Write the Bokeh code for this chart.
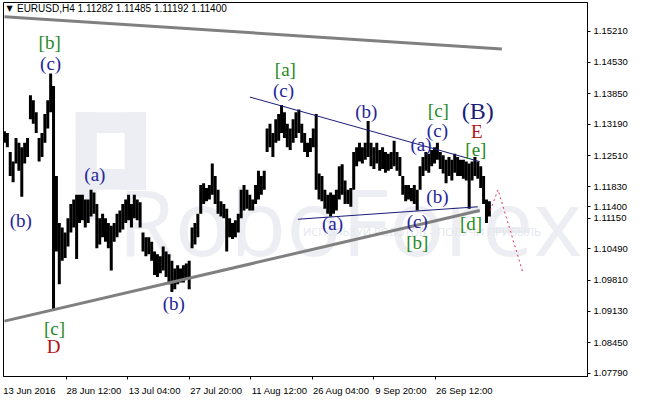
from bokeh.plotting import figure
from bokeh.models import Range1d, FixedTicker, Label
from bokeh.embed import file_html
from bokeh.resources import INLINE
from bokeh.core.properties import value

# H4 bar number (every 3rd bar sampled) and high / low of each sampled bar
bar_no = list(range(0, 507, 3))
highs = [1.1304, 1.1300, 1.1259, 1.1238, 1.1289, 1.1279, 1.1269, 1.1279, 1.1289, 1.1382,
         1.1371, 1.1345, 1.1289, 1.1300, 1.1341, 1.1371, 1.1429, 1.1402, 1.1207, 1.1105,
         1.1095, 1.1084, 1.1115, 1.1146, 1.1156, 1.1166, 1.1166, 1.1166, 1.1156, 1.1156,
         1.1177, 1.1171, 1.1146, 1.1115, 1.1125, 1.1115, 1.1105, 1.1099, 1.1105, 1.1125,
         1.1132, 1.1146, 1.1156, 1.1166, 1.1146, 1.1166, 1.1156, 1.1150, 1.1084, 1.1074,
         1.1074, 1.1064, 1.1043, 1.1037, 1.1033, 1.1054, 1.1043, 1.1037, 1.1023, 1.1006,
         1.1013, 1.1006, 1.1013, 1.1017, 1.1023, 1.1095, 1.1105, 1.1125, 1.1187, 1.1191,
         1.1181, 1.1187, 1.1234, 1.1207, 1.1177, 1.1152, 1.1146, 1.1136, 1.1115, 1.1105,
         1.1111, 1.1125, 1.1177, 1.1187, 1.1177, 1.1166, 1.1156, 1.1187, 1.1218, 1.1207,
         1.1218, 1.1310, 1.1320, 1.1300, 1.1330, 1.1341, 1.1361, 1.1345, 1.1320, 1.1310,
         1.1330, 1.1345, 1.1351, 1.1320, 1.1300, 1.1279, 1.1289, 1.1310, 1.1341, 1.1212,
         1.1207, 1.1177, 1.1166, 1.1171, 1.1166, 1.1177, 1.1228, 1.1232, 1.1197, 1.1177,
         1.1181, 1.1259, 1.1269, 1.1279, 1.1269, 1.1279, 1.1326, 1.1279, 1.1269, 1.1279,
         1.1263, 1.1269, 1.1259, 1.1255, 1.1259, 1.1283, 1.1259, 1.1248, 1.1207, 1.1187,
         1.1187, 1.1181, 1.1187, 1.1177, 1.1228, 1.1248, 1.1259, 1.1255, 1.1263, 1.1269,
         1.1279, 1.1259, 1.1252, 1.1242, 1.1248, 1.1242, 1.1255, 1.1248, 1.1242, 1.1242,
         1.1238, 1.1234, 1.1238, 1.1248, 1.1238, 1.1228, 1.1207, 1.1156, 1.1152]
lows = [1.1279, 1.1269, 1.1207, 1.1193, 1.1234, 1.1218, 1.1162, 1.1234, 1.1248, 1.1330,
        1.1320, 1.1300, 1.1238, 1.1248, 1.1279, 1.1310, 1.1345, 1.0914, 1.1043, 1.0972,
        1.1023, 1.1029, 1.1054, 1.1084, 1.1095, 1.1027, 1.1105, 1.1111, 1.1095, 1.1105,
        1.1119, 1.1125, 1.1050, 1.1058, 1.1074, 1.1064, 1.1050, 1.1002, 1.1064, 1.1074,
        1.1084, 1.1091, 1.1105, 1.1111, 1.1095, 1.1115, 1.1111, 1.1095, 1.1043, 1.1033,
        1.1037, 1.1023, 1.0992, 1.0988, 1.0996, 1.1002, 1.0988, 1.0972, 1.0955, 1.0961,
        1.0972, 1.0976, 1.0976, 1.0982, 1.0961, 1.1050, 1.1058, 1.1074, 1.1125, 1.1146,
        1.1152, 1.1156, 1.1166, 1.1146, 1.1125, 1.1119, 1.1115, 1.1043, 1.1074, 1.1070,
        1.1074, 1.1084, 1.1115, 1.1132, 1.1136, 1.1132, 1.1132, 1.1146, 1.1156, 1.1166,
        1.1177, 1.1259, 1.1269, 1.1248, 1.1279, 1.1283, 1.1300, 1.1289, 1.1269, 1.1263,
        1.1279, 1.1289, 1.1300, 1.1279, 1.1259, 1.1248, 1.1259, 1.1269, 1.1177, 1.1156,
        1.1152, 1.1136, 1.1125, 1.1119, 1.1125, 1.1132, 1.1156, 1.1166, 1.1146, 1.1146,
        1.1140, 1.1177, 1.1228, 1.1238, 1.1234, 1.1242, 1.1248, 1.1228, 1.1222, 1.1234,
        1.1218, 1.1222, 1.1214, 1.1218, 1.1222, 1.1228, 1.1218, 1.1207, 1.1166, 1.1152,
        1.1156, 1.1152, 1.1146, 1.1132, 1.1177, 1.1207, 1.1218, 1.1214, 1.1228, 1.1234,
        1.1242, 1.1222, 1.1212, 1.1191, 1.1207, 1.1197, 1.1214, 1.1207, 1.1207, 1.1201,
        1.1197, 1.1136, 1.1197, 1.1207, 1.1201, 1.1181, 1.1146, 1.1105, 1.1119]

price_ticks = [1.15210, 1.14530, 1.13850, 1.13190, 1.12510, 1.11830, 1.11150,
               1.10490, 1.09810, 1.09130, 1.08450, 1.07790]
price_labels = ["1.15210", "1.14530", "1.13850", "1.13190", "1.12510", "1.11830", "1.11150",
                "1.10490", "1.09810", "1.09130", "1.08450", "1.07790"]
time_ticks = [64, 128, 192, 256, 320, 384, 448]
time_labels = ["13 Jun 2016", "28 Jun 12:00", "13 Jul 04:00", "27 Jul 20:00",
               "11 Aug 12:00", "26 Aug 04:00", "9 Sep 20:00", "26 Sep 12:00"]
# label anchors: MetaTrader writes each date to the right of its tick mark
time_label_pos = [26, 93, 156, 220, 286, 350, 412, 478]

# trend lines (bar number, price)
upper_gray_x = [0, 517];   upper_gray_y = [1.1552, 1.1482]
lower_gray_x = [0, 494];   lower_gray_y = [1.0892, 1.1132]
upper_navy_x = [255, 494]; upper_navy_y = [1.1378, 1.1238]
lower_navy_x = [305, 492]; lower_navy_y = [1.1113, 1.1140]
proj_x = [505, 513, 539];  proj_y = [1.1132, 1.1177, 1.0996]

# wave labels: text, bar number, price
wave_text = ["[b]", "(c)", "(b)", "(a)", "[c]", "D", "(b)", "[a]", "(c)", "(b)", "(a)",
             "[c]", "(c)", "(B)", "E", "[e]", "(b)", "(c)", "[b]", "[d]", "(a)"]
wave_x = [47, 48, 17, 94, 52, 51, 176, 292, 290, 376, 433,
          451, 450, 492, 491, 490, 450, 429, 429, 485, 341]
wave_y = [1.1496, 1.1451, 1.1111, 1.1211, 1.0877, 1.0836, 1.0931, 1.1437, 1.1392, 1.1347, 1.1275,
          1.1349, 1.1306, 1.1347, 1.1304, 1.1265, 1.1162, 1.1109, 1.1062, 1.1103, 1.1103]

last_price = 1.11400
last_label = "1.11400"
title_text = "EURUSD,H4  1.11282 1.11485 1.11192 1.11400"

GREEN = "#1f8a1f"
BLUE = "#25259a"
NAVY = "#1c1c78"
RED = "#b01515"
color_of = {"[": GREEN, "(": BLUE}

p = figure(width=630, height=398, output_backend="svg", toolbar_location=None,
           x_range=Range1d(-1, 606), y_range=Range1d(1.0772, 1.1583),
           y_axis_location="right", min_border_left=3, min_border_top=2,
           min_border_right=0, min_border_bottom=0)
p.background_fill_color = "white"
p.border_fill_color = "white"
p.outline_line_color = "black"
p.outline_line_width = 1
p.grid.visible = False

# axes
for ax in (p.xaxis[0], p.yaxis[0]):
    ax.axis_line_color = "black"
    ax.major_tick_in = 0
    ax.major_tick_out = 3
    ax.minor_tick_in = 0
    ax.minor_tick_out = 3
    ax.major_label_text_font = "Liberation Sans"
    ax.major_label_text_font_size = "9.5px"
    ax.major_label_text_color = "black"
    ax.major_label_standoff = 3

y_ticks = price_ticks + [last_price]
p.yaxis.ticker = FixedTicker(ticks=y_ticks)
p.yaxis.major_tick_line_color = "black"
p.yaxis.minor_tick_line_color = None
p.yaxis.major_label_overrides = {t: l for t, l in zip(y_ticks, price_labels + [last_label])}

p.xaxis.ticker = FixedTicker(ticks=time_label_pos, minor_ticks=time_ticks)
p.xaxis.major_tick_line_color = None
p.xaxis.minor_tick_line_color = "black"
p.xaxis.major_label_overrides = {t: l for t, l in zip(time_label_pos, time_labels)}
p.xaxis.major_label_standoff = 5

# watermark
wm = "#eceef3"
p.quad(left=[74, 74, 125, 74], right=[96, 147, 147, 147],
       bottom=[1.1111, 1.1300, 1.1177, 1.1177], top=[1.1345, 1.1345, 1.1345, 1.1222],
       color=wm, line_color=None)
p.text(x=[359], y=[1.1111], text=["RoboForex"], text_align="center", text_baseline="alphabetic",
       text_font=value("Open Sans"), text_font_size="92px", text_color=wm)
p.text(x=[434], y=[1.1086], text=["ИСПОЛЬЗУЙ РОБОТОВ – ПОЛУЧИ ПРИБЫЛЬ"], text_align="center",
       text_baseline="middle", text_font=value("Open Sans"), text_font_size="11px",
       text_color="#e3e6ec")

# price bars
p.segment(x0=bar_no, y0=lows, x1=bar_no, y1=highs, line_color="black", line_width=3)

# trend lines
p.line(upper_gray_x, upper_gray_y, line_color="#808080", line_width=3)
p.line(lower_gray_x, lower_gray_y, line_color="#808080", line_width=3)
p.line(upper_navy_x, upper_navy_y, line_color=NAVY, line_width=1)
p.line(lower_navy_x, lower_navy_y, line_color=NAVY, line_width=1)
p.line(proj_x, proj_y, line_color="#e8305a", line_width=1, line_dash="2 3")

# wave labels
for t, x, y in zip(wave_text, wave_x, wave_y):
    if t == "(B)":
        c, s = NAVY, "24px"
    elif t in ("D", "E"):
        c, s = RED, "19px"
    else:
        c, s = color_of[t[0]], "19px"
    p.text(x=[x], y=[y], text=[t], text_align="center", text_baseline="middle",
           text_font=value("Liberation Serif"), text_font_size=s, text_color=c)

# header
p.add_layout(Label(x=2, y=1.1571, text="▼", text_font="DejaVu Sans", text_font_size="8px",
                   text_baseline="middle", text_color="black"))
p.add_layout(Label(x=13, y=1.1570, text=title_text, text_font="Liberation Sans",
                   text_font_size="10px", text_baseline="middle", text_color="black"))

open("out.html", "w").write(file_html(p, INLINE))
